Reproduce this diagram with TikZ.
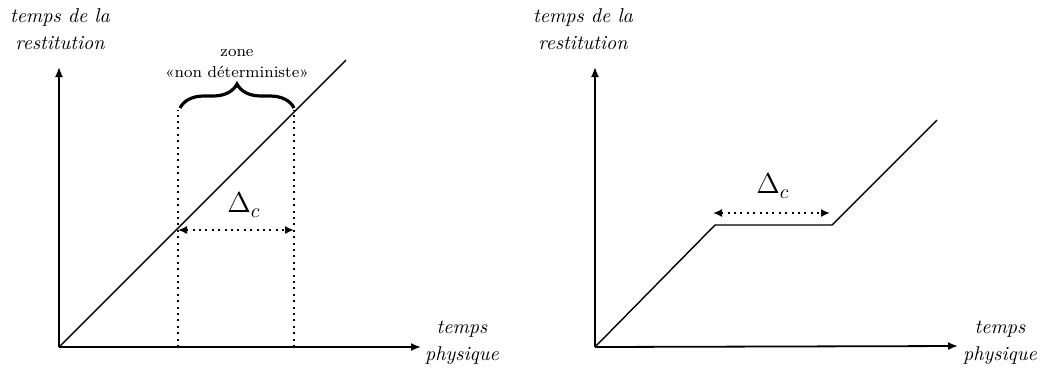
\documentclass[tikz,border=0pt]{standalone}
\usetikzlibrary{arrows.meta,decorations.pathreplacing}
\begin{document}
\begin{tikzpicture}[x=0.5pt,y=-0.5pt,
  axis/.style={line width=0.9pt,-{Latex[length=5pt,width=4pt]}},
  curve/.style={line width=0.7pt},
  guide/.style={line width=0.8pt,dash pattern=on 1pt off 2.2pt},
  span/.style={line width=0.8pt,dash pattern=on 1pt off 2.2pt,{Latex[length=4.5pt,width=4pt]}-{Latex[length=4.5pt,width=4pt]}},
  lab/.style={font=\itshape,align=center,inner sep=0pt}]
\useasboundingbox (0,0) rectangle (1040,372);
% left plot
\coordinate (O1) at (59,347);
\coordinate (Y1) at (59,67);
\coordinate (X1) at (421,347);
\coordinate (D1) at (346,60);
\coordinate (a1) at (178,347);
\coordinate (b1) at (294,347);
\coordinate (a1t) at (178,110);
\coordinate (b1t) at (294,110);
\coordinate (s1a) at (178,230);
\coordinate (s1b) at (294,230);
\draw[axis] (O1) -- (Y1);
\draw[axis] (O1) -- (X1);
\draw[curve] (O1) -- (D1);
\draw[guide] (a1) -- (a1t);
\draw[guide] (b1) -- (b1t);
\draw[span] (s1a) -- (s1b);
\node (dl) at (244,205) {\Large$\Delta_c$};
\draw[line width=1.6pt,decorate,decoration={brace,amplitude=12pt}] (180,108) -- (294,108);
\node[inner sep=0pt,align=center,font=\footnotesize] (zone) at (237,64) {zone\\[1pt]«non déterministe»};
\node[lab] (yl1) at (60,29) {temps de la\\[1.5pt]restitution};
\node[lab] (xl1) at (462,343) {temps\\[1.5pt]physique};
% right plot
\coordinate (O2) at (595,347);
\coordinate (Y2) at (595,67);
\coordinate (X2) at (958,346);
\coordinate (P1) at (715,225);
\coordinate (P2) at (832,225);
\coordinate (P3) at (937,120);
\coordinate (s2a) at (713,213);
\coordinate (s2b) at (830,213);
\draw[axis] (O2) -- (Y2);
\draw[axis] (O2) -- (X2);
\draw[curve] (O2) -- (P1) -- (P2) -- (P3);
\draw[span] (s2a) -- (s2b);
\node (dr) at (773,186) {\Large$\Delta_c$};
\node[lab] (yl2) at (583,29) {temps de la\\[1.5pt]restitution};
\node[lab] (xl2) at (1000,343) {temps\\[1.5pt]physique};
\end{tikzpicture}
\end{document}
